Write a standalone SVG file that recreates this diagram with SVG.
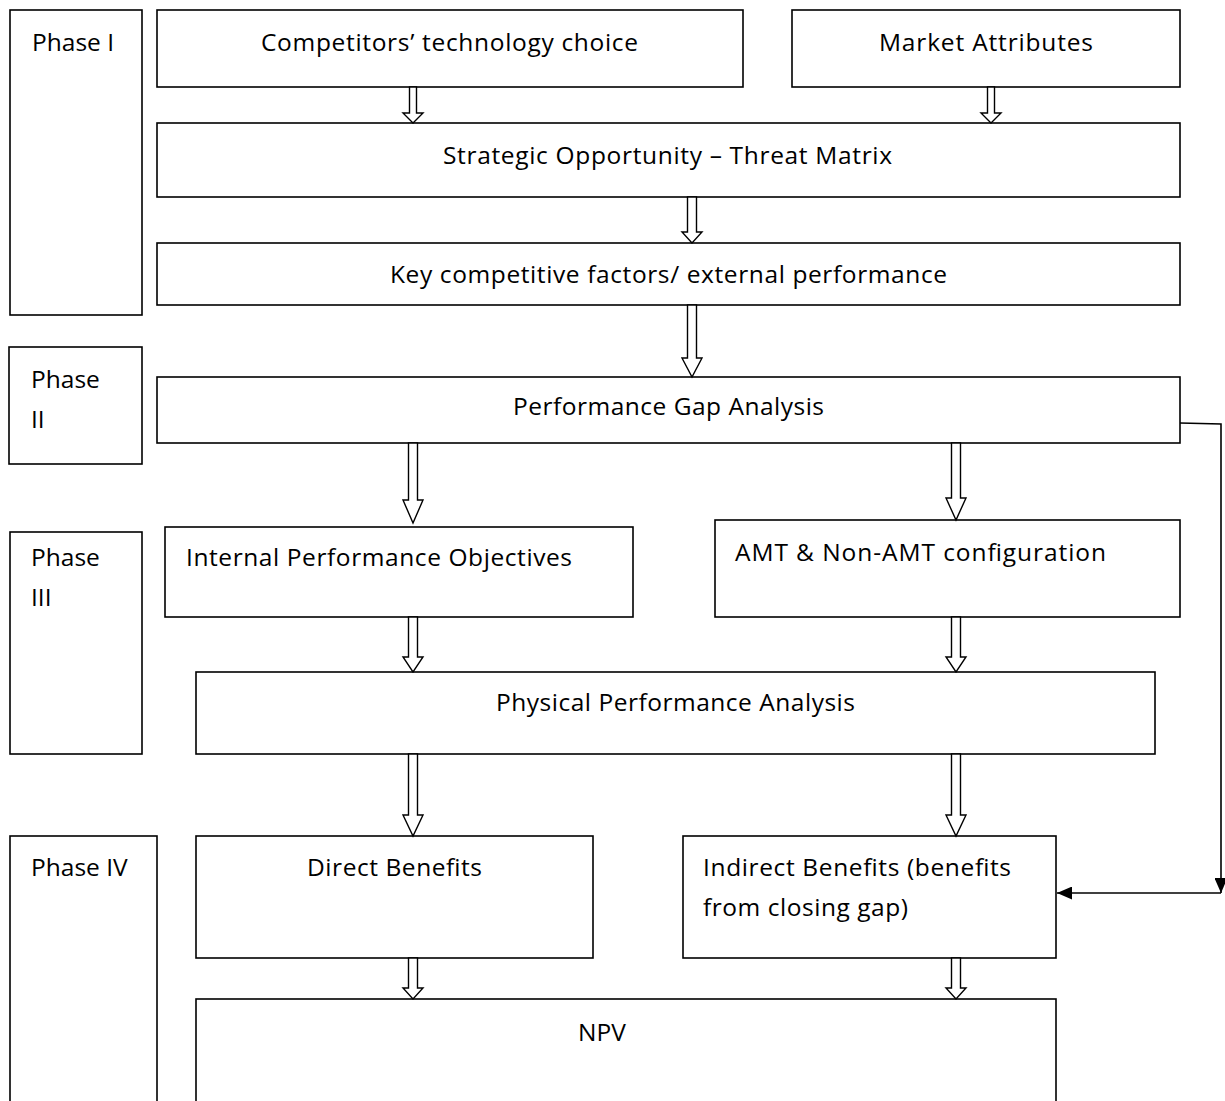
<svg xmlns="http://www.w3.org/2000/svg" width="1225" height="1101" viewBox="0 0 1225 1101">
<style>
.box{fill:#fff;stroke:#000;stroke-width:1.6}
.blk{fill:#fff;stroke:#000;stroke-width:1.4;stroke-linejoin:miter}
.ln{fill:none;stroke:#000;stroke-width:1.6}
text{font-family:"Open Sans","Liberation Sans",sans-serif;font-size:24.5px;fill:#000}
</style>
<defs>
<marker id="ah" viewBox="0 0 10 10" refX="10" refY="5" markerWidth="15" markerHeight="13" markerUnits="userSpaceOnUse" orient="auto" preserveAspectRatio="none">
<path d="M0,0 L10,5 L0,10 Z" fill="#000"/>
</marker>
</defs>
<rect width="1225" height="1101" fill="#fff"/>

<g id="phase1"><rect class="box" x="10" y="10" width="132" height="305"/><text x="32" y="51">Phase I</text></g>
<g id="phase2"><rect class="box" x="9" y="347" width="133" height="117"/><text x="31" y="388">Phase</text><text x="31" y="428">II</text></g>
<g id="phase3"><rect class="box" x="10" y="532" width="132" height="222"/><text x="31" y="566">Phase</text><text x="31" y="606">III</text></g>
<g id="phase4"><rect class="box" x="10" y="836" width="147" height="300"/><text x="31" y="876">Phase IV</text></g>

<g id="competitors"><rect class="box" x="157" y="10" width="586" height="77"/><text x="261" y="51" textLength="377">Competitors’ technology choice</text></g>
<g id="market"><rect class="box" x="792" y="10" width="388" height="77"/><text x="879" y="51" textLength="214">Market Attributes</text></g>
<g id="strategic"><rect class="box" x="157" y="123" width="1023" height="74"/><text x="443" y="164" textLength="449">Strategic Opportunity – Threat Matrix</text></g>
<g id="keyfactors"><rect class="box" x="157" y="243" width="1023" height="62"/><text x="390" y="283" textLength="557">Key competitive factors/ external performance</text></g>
<g id="gap"><rect class="box" x="157" y="377" width="1023" height="66"/><text x="513" y="415" textLength="311">Performance Gap Analysis</text></g>
<g id="internal"><rect class="box" x="165" y="527" width="468" height="90"/><text x="186" y="566" textLength="386">Internal Performance Objectives</text></g>
<g id="amt"><rect class="box" x="715" y="520" width="465" height="97"/><text x="735" y="561" textLength="371">AMT &amp; Non-AMT configuration</text></g>
<g id="physical"><rect class="box" x="196" y="672" width="959" height="82"/><text x="496" y="711" textLength="359">Physical Performance Analysis</text></g>
<g id="direct"><rect class="box" x="196" y="836" width="397" height="122"/><text x="307" y="876" textLength="175">Direct Benefits</text></g>
<g id="indirect"><rect class="box" x="683" y="836" width="373" height="122"/><text x="703" y="876" textLength="308">Indirect Benefits (benefits</text><text x="703" y="916" textLength="205">from closing gap)</text></g>
<g id="npv"><rect class="box" x="196" y="999" width="860" height="140"/><text x="578" y="1041">NPV</text></g>

<g id="connectors">
<path class="blk" d="M409.5,87 V113 H403 L413,123 L423,113 H416.5 V87 Z"/>
<path class="blk" d="M987.5,87 V113 H981 L991,123 L1001,113 H994.5 V87 Z"/>
<path class="blk" d="M687.5,197 V232 H682 L692,243 L702,232 H696.5 V197 Z"/>
<path class="blk" d="M687.5,305 V358 H682 L692,377 L702,358 H696.5 V305 Z"/>
<path class="blk" d="M408.5,443 V500 H403 L413,523 L423,500 H417.5 V443 Z"/>
<path class="blk" d="M951.5,443 V498 H946 L956,520 L966,498 H960.5 V443 Z"/>
<path class="blk" d="M408.5,617 V657 H403 L413,672 L423,657 H417.5 V617 Z"/>
<path class="blk" d="M951.5,617 V657 H946 L956,672 L966,657 H960.5 V617 Z"/>
<path class="blk" d="M408.5,754 V815 H403 L413,836 L423,815 H417.5 V754 Z"/>
<path class="blk" d="M951.5,754 V815 H946 L956,836 L966,815 H960.5 V754 Z"/>
<path class="blk" d="M408.5,958 V988 H403 L413,999 L423,988 H417.5 V958 Z"/>
<path class="blk" d="M951.5,958 V988 H946 L956,999 L966,988 H960.5 V958 Z"/>
<path class="ln" d="M1180,423 L1221,424 V893" marker-end="url(#ah)"/>
<path class="ln" d="M1221,893 H1057" marker-end="url(#ah)"/>
</g>
</svg>
